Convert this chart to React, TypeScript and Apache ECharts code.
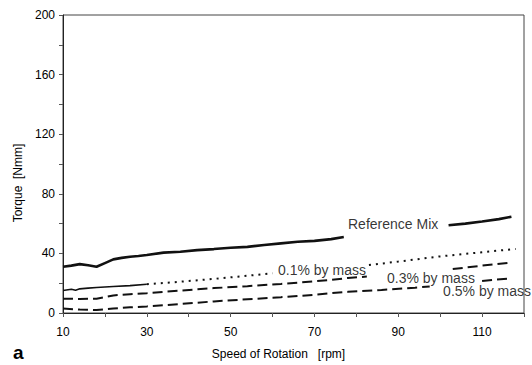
import { useEffect, useRef } from "react";
import * as echarts from "echarts";

// Torque [Nmm] vs speed of rotation [rpm]; null = gap in line (where labels sit)
const referenceMix: (number | null)[][] = [
  [10, 31], [12, 31.8], [14, 32.8], [16, 32], [18, 31], [20, 33.5], [22, 36], [24, 37],
  [26, 37.8], [28, 38.3], [30, 38.9], [34, 40.5], [38, 41.1], [42, 42.2], [46, 42.9],
  [50, 43.8], [54, 44.4], [58, 45.6], [62, 46.7], [66, 47.8], [70, 48.4], [74, 49.6],
  [77, 51], [90, null], [102, 58.9], [106, 60], [110, 61.4], [114, 63], [117, 64.6],
];

const mass01Solid: number[][] = [
  [10, 15.1], [12, 15.9], [13, 15.3], [14, 16.2], [16, 16.7], [18, 17.1], [22, 17.8],
  [26, 18.4], [30, 19.3],
];

const mass01Dotted: (number | null)[][] = [
  [30, 19.3], [38, 21], [46, 22.9], [54, 25], [60, 26.7], [72, null], [83, 32.2],
  [90, 34.5], [100, 38], [110, 40.8], [118, 43],
];

const mass03: (number | null)[][] = [
  [10, 9.6], [14, 9.4], [18, 9.6], [22, 11.8], [26, 12.6], [30, 13.3], [38, 15], [46, 16.7],
  [54, 18], [62, 19.5], [70, 21.3], [74, 22.2], [78, 23.5], [82.5, 24.5], [92, null],
  [103, 29.5], [110, 31.8], [117, 33.8],
];

const mass05: (number | null)[][] = [
  [10, 3], [14, 2.3], [18, 2], [22, 3], [26, 3.8], [30, 4.4], [38, 6], [46, 7.8], [54, 9.2],
  [62, 10.6], [70, 12.2], [74, 13.3], [78, 14.2], [86, 15.5], [94, 17], [97.5, 17.8],
  [104, null], [110, 21.5], [117, 23.3],
];

const seriesLabels: [number, number, string][] = [
  [78, 60, "Reference Mix"],
  [61.3, 28.9, "0.1% by mass"],
  [87.3, 23.3, "0.3% by mass"],
  [100.7, 14.5, "0.5% by mass"],
];

const FONT = "'Liberation Sans', Arial, sans-serif";

export default function App() {
  const ref = useRef<HTMLDivElement>(null);
  useEffect(() => {
    if (!ref.current) return;
    const chart = echarts.init(ref.current, undefined, { renderer: "svg" });
    chart.setOption({
      animation: false,
      backgroundColor: "#fff",
      textStyle: { fontFamily: FONT },
      grid: {
        left: 63,
        right: 8,
        top: 15,
        bottom: 50,
        show: true,
        borderColor: "#444",
        borderWidth: 1,
      },
      xAxis: {
        type: "value",
        min: 10,
        max: 120,
        interval: 10,
        name: "Speed of Rotation   [rpm]",
        nameLocation: "middle",
        nameGap: 35,
        nameTextStyle: { fontSize: 12, color: "#000", fontFamily: FONT, padding: [0, 30, 0, 0] },
        axisLine: { show: true, lineStyle: { color: "#222", width: 1 } },
        axisTick: { show: true, inside: false, length: 4, lineStyle: { color: "#555" } },
        axisLabel: {
          fontSize: 12,
          color: "#000",
          margin: 13,
          formatter: (v: number) => ((v - 10) % 20 === 0 && v < 120 ? String(v) : ""),
        },
        splitLine: { show: false },
      },
      yAxis: {
        type: "value",
        min: 0,
        max: 200,
        interval: 20,
        name: "Torque  [Nmm]",
        nameLocation: "middle",
        nameGap: 38,
        nameTextStyle: { fontSize: 12, color: "#000", fontFamily: FONT, padding: [0, 38, 0, 0] },
        axisLine: { show: true, lineStyle: { color: "#222", width: 1 } },
        axisTick: { show: true, inside: false, length: 4, lineStyle: { color: "#555" } },
        axisLabel: {
          fontSize: 12,
          color: "#000",
          margin: 8,
          formatter: (v: number) => (v % 40 === 0 ? String(v) : ""),
        },
        splitLine: { show: false },
      },
      series: [
        {
          name: "Reference Mix",
          type: "line",
          data: referenceMix,
          showSymbol: false,
          connectNulls: false,
          lineStyle: { color: "#111", width: 2.6 },
        },
        {
          name: "0.1% by mass (solid)",
          type: "line",
          data: mass01Solid,
          showSymbol: false,
          lineStyle: { color: "#111", width: 1.6 },
        },
        {
          name: "0.1% by mass",
          type: "line",
          data: mass01Dotted,
          showSymbol: false,
          connectNulls: false,
          lineStyle: { color: "#111", width: 2, type: [2, 5] },
        },
        {
          name: "0.3% by mass",
          type: "line",
          data: mass03,
          showSymbol: false,
          connectNulls: false,
          lineStyle: { color: "#111", width: 2, type: [10, 5] },
        },
        {
          name: "0.5% by mass",
          type: "line",
          data: mass05,
          showSymbol: false,
          connectNulls: false,
          lineStyle: { color: "#111", width: 2, type: [10, 5] },
        },
        {
          name: "labels",
          type: "scatter",
          data: seriesLabels,
          symbolSize: 0,
          clip: false,
          silent: true,
          label: {
            show: true,
            position: [0, 0],
            align: "left",
            verticalAlign: "middle",
            fontSize: 14,
            color: "#000",
            fontFamily: FONT,
            formatter: (p: any) => p.data[2],
          },
        },
      ],
      graphic: [
        {
          type: "text",
          left: 13,
          top: 343,
          style: { text: "a", fontSize: 19, fontWeight: "bold", fill: "#000", fontFamily: FONT },
        },
      ],
    });
    return () => chart.dispose();
  }, []);
  return (
    <div
      ref={ref}
      style={{ position: "fixed", left: 0, top: 0, width: 532, height: 365 }}
    />
  );
}
